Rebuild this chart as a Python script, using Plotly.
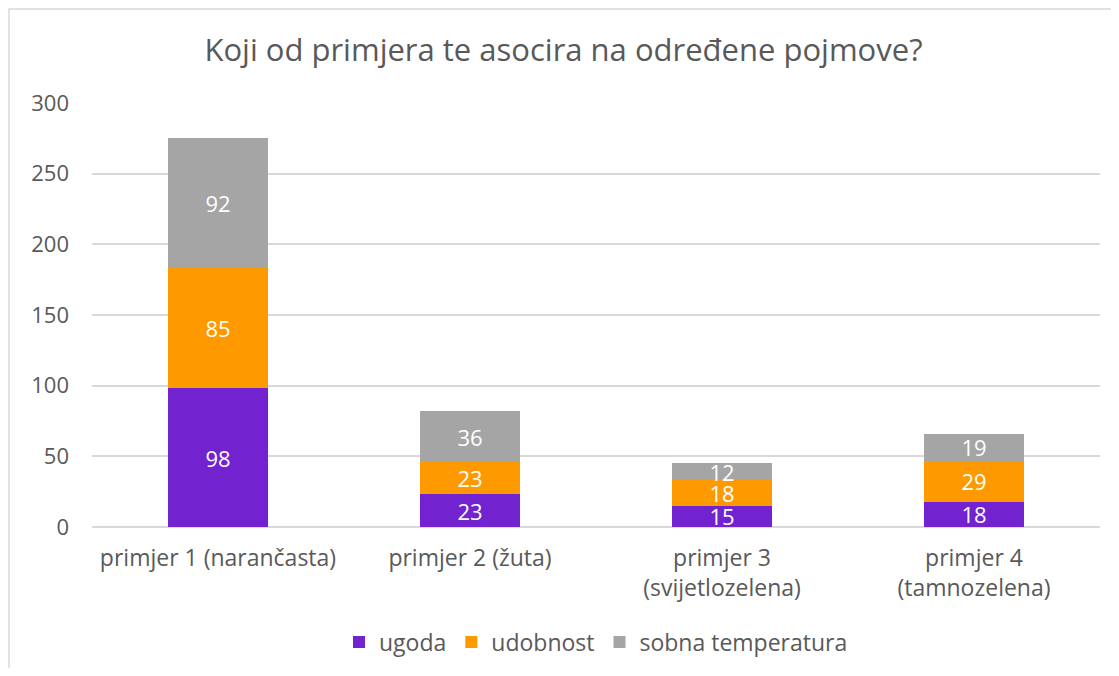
import plotly.graph_objects as go

categories = ["primjer 1 (narančasta)", "primjer 2 (žuta)", "primjer 3<br>(svijetlozelena)", "primjer 4<br>(tamnozelena)"]
ugoda = [98, 23, 15, 18]
udobnost = [85, 23, 18, 29]
sobna_temperatura = [92, 36, 12, 19]

series = [
    ("ugoda", ugoda, "#7322D0"),
    ("udobnost", udobnost, "#FF9900"),
    ("sobna temperatura", sobna_temperatura, "#A5A5A5"),
]

W, H = 1111, 660
L, T = 84, 95
PW, PH = 1008, 424

font = "'Open Sans', sans-serif"
fig = go.Figure()
for name, vals, col in series:
    fig.add_trace(go.Bar(
        name=name, x=categories, y=vals, marker=dict(color=col, line=dict(width=0)),
        text=[str(v) for v in vals], textposition="inside", insidetextanchor="middle",
        textangle=0, textfont=dict(color="white", size=22, family=font), constraintext="none",
    ))

fig.update_layout(
    barmode="stack", bargap=0.6,
    width=W, height=H,
    margin=dict(l=L, r=W - L - PW, t=T, b=H - T - PH, autoexpand=False),
    paper_bgcolor="white", plot_bgcolor="white",
    font=dict(family=font, color="#595959", size=21),
    title=dict(text="Koji od primjera te asocira na određene pojmove?", x=0.5, xanchor="center",
               y=1 - 42/H, yanchor="middle", font=dict(size=31, color="#595959")),
    legend=dict(orientation="h", x=0.5, xanchor="center", yref="container", y=(H - 634) / H,
                yanchor="middle", font=dict(size=23, color="#595959"), itemwidth=30,
                traceorder="normal"),
    uniformtext=dict(mode="show", minsize=22),
)
fig.update_yaxes(range=[0, 300], dtick=50, showgrid=True, gridcolor="#D9D9D9", gridwidth=1.5,
                 zeroline=True, zerolinecolor="#D9D9D9", zerolinewidth=1.5, showline=False,
                 automargin=False,
                 ticks="", ticklabelstandoff=22, tickfont=dict(size=22, color="#595959"))
fig.update_xaxes(showline=False, ticks="", automargin=False,
                 tickfont=dict(size=23, color="#595959"), ticklabelstandoff=15)

fig.add_shape(type="rect", xref="paper", yref="paper",
              x0=(1 - L)/PW, x1=(W + 20 - L)/PW, y0=(T + PH - H - 20)/PH, y1=(T + PH - 1)/PH,
              line=dict(color="#D9D9D9", width=1.5), fillcolor="rgba(0,0,0,0)", layer="below")

fig.write_html("out.html")
